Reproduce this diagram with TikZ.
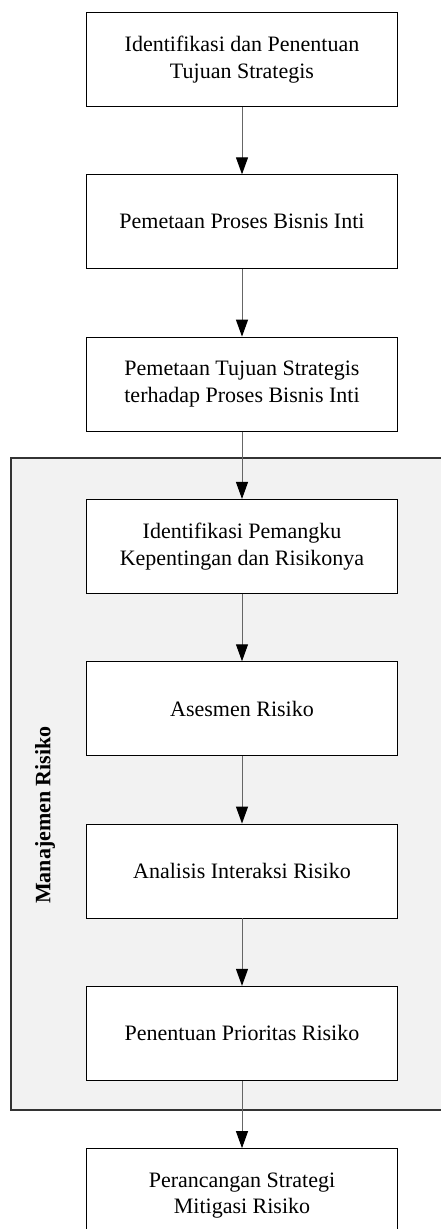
\documentclass[tikz,border=0pt]{standalone}
\usepackage{fontspec}
\setmainfont{Liberation Serif}
\usetikzlibrary{positioning,arrows.meta}
\begin{document}
\begin{tikzpicture}[x=1pt, y=1pt, node distance=67.4pt,
					stage/.style={draw=black, line width=0.9pt, fill=white,
						minimum width=311pt, minimum height=94pt, inner sep=0pt,
						align=center, font=\fontsize{22}{26.5}\selectfont},
					flow/.style={draw=black!60, line width=1pt,
						-{Triangle[length=17pt, width=12pt, color=black]}}]
					\useasboundingbox (0,0) rectangle (440,-1229);
					% area manajemen risiko
					\draw[fill=black!5, draw=black!80, line width=1.3pt] (11,-458) rectangle (450,-1110);
					\node[rotate=90, font=\fontsize{22}{26.5}\selectfont\bfseries] (mrlabel) at (45,-815) {Manajemen Risiko};
					% tahapan
					\node[stage] (tujuan) at (242,-59.5) {Identifikasi dan Penentuan\\Tujuan Strategis};
					\node[stage, below=of tujuan] (proses) {Pemetaan Proses Bisnis Inti};
					\node[stage, below=of proses] (pemetaan) {Pemetaan Tujuan Strategis\\terhadap Proses Bisnis Inti};
					\node[stage, below=of pemetaan] (pemangku) {Identifikasi Pemangku\\Kepentingan dan Risikonya};
					\node[stage, below=of pemangku] (asesmen) {Asesmen Risiko};
					\node[stage, below=of asesmen] (interaksi) {Analisis Interaksi Risiko};
					\node[stage, below=of interaksi] (prioritas) {Penentuan Prioritas Risiko};
					\node[stage, below=of prioritas] (mitigasi) {Perancangan Strategi\\Mitigasi Risiko};
					% panah
					\foreach \a/\b in {tujuan/proses, proses/pemetaan, pemetaan/pemangku, pemangku/asesmen,
						asesmen/interaksi, interaksi/prioritas, prioritas/mitigasi}
						\draw[flow] (\a) -- (\b);
\end{tikzpicture}
\end{document}
